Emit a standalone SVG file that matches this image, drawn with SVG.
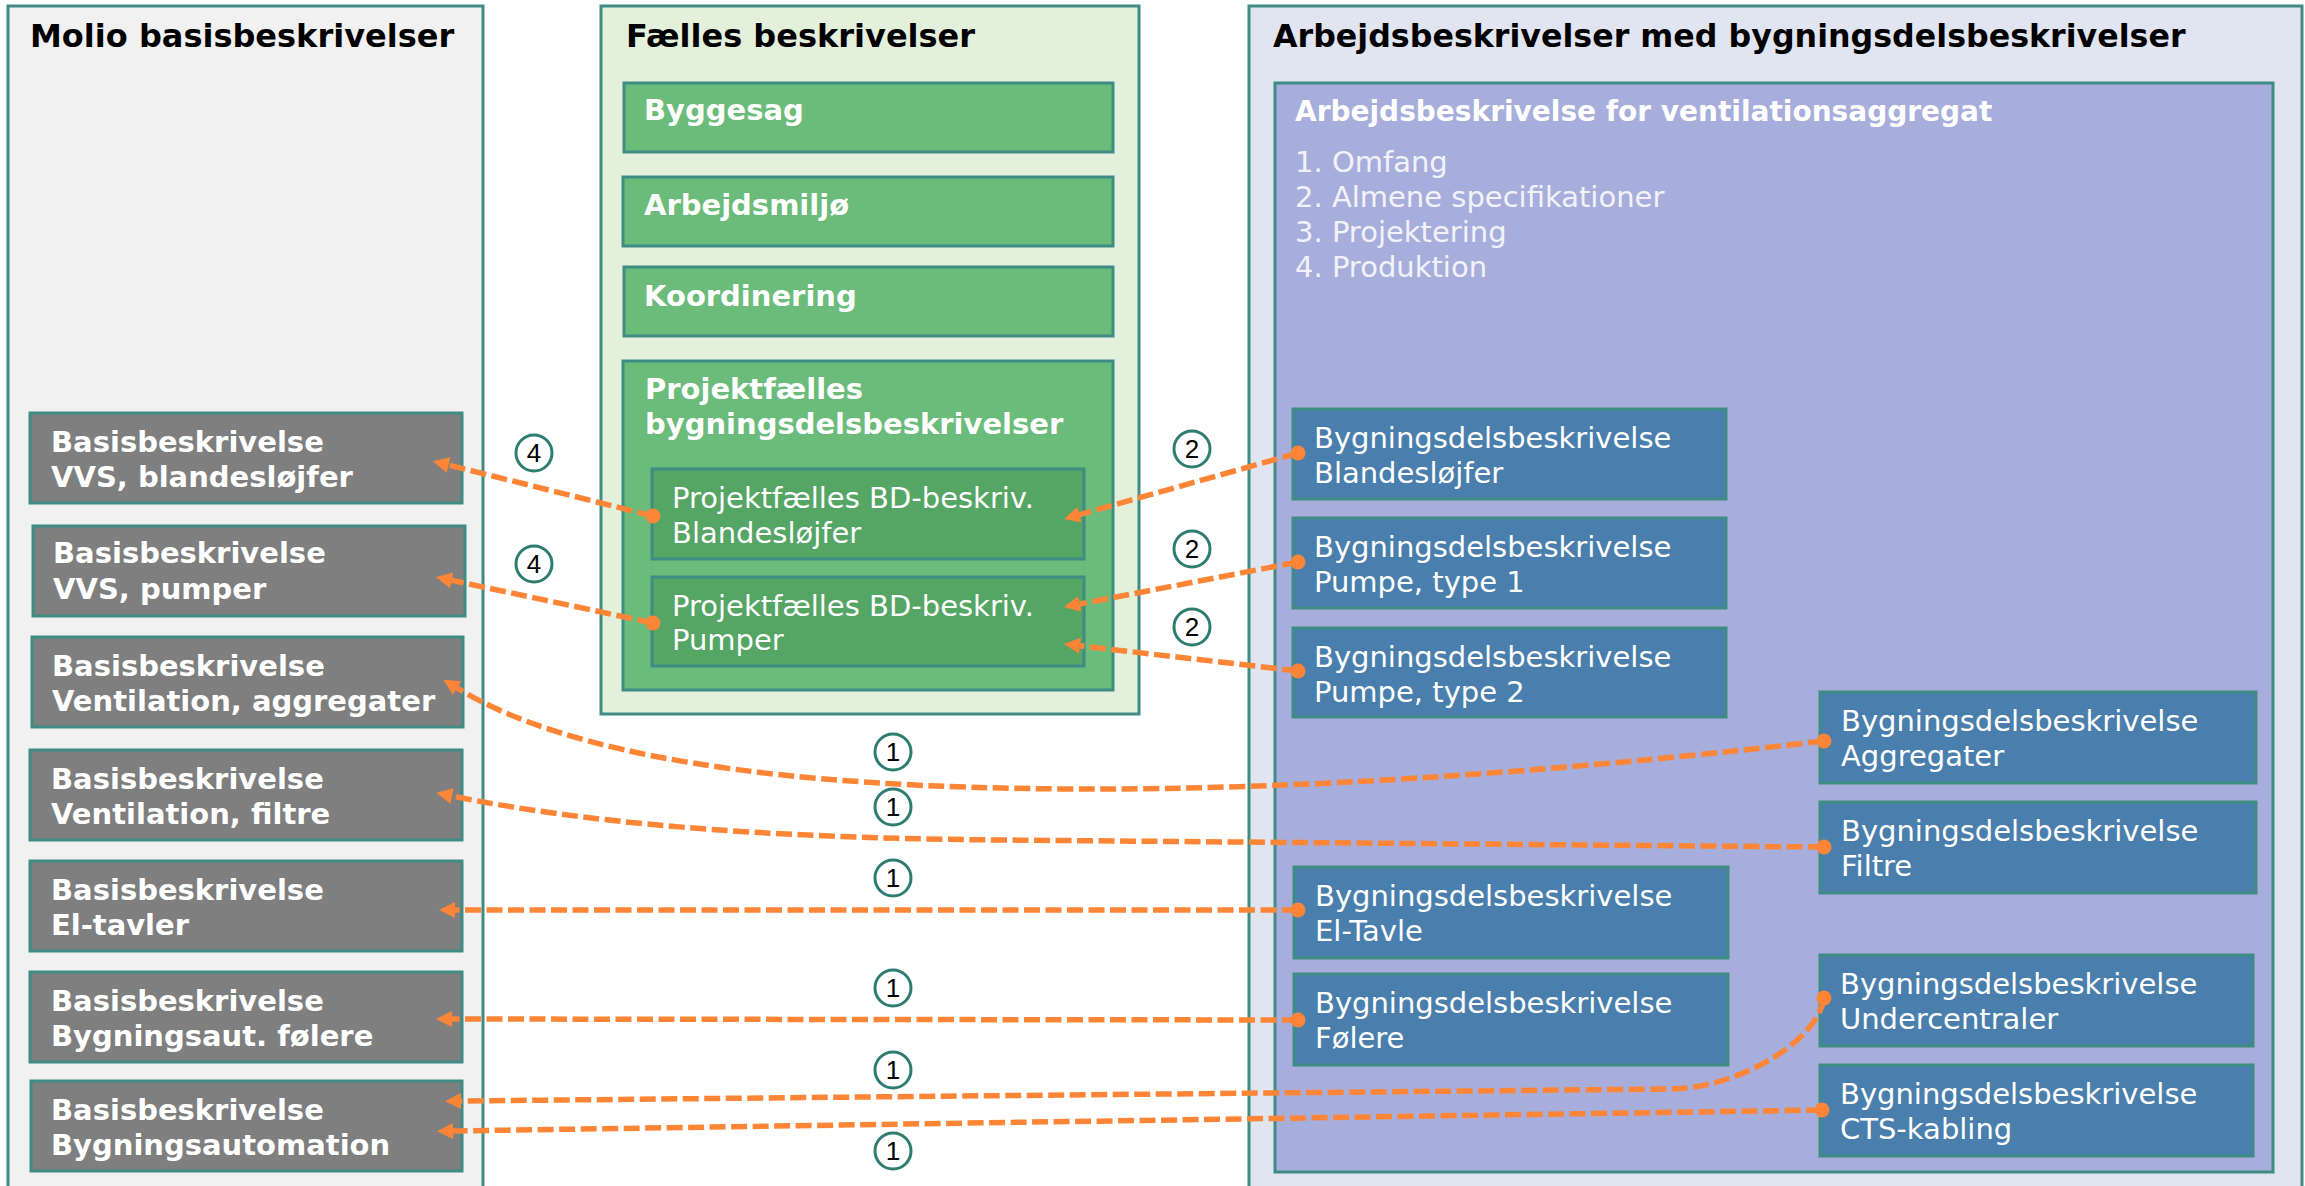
<svg xmlns="http://www.w3.org/2000/svg" width="2305" height="1186" viewBox="0 0 2305 1186">
<style>
text{font-family:"DejaVu Sans","Liberation Sans",sans-serif}
.ttl{font-size:32px;font-weight:bold;fill:#000}
.b{font-size:29px;font-weight:bold;fill:#fff}
.r{font-size:29px;fill:#fff}
.li{font-size:29px;fill:#f2f3fa}
.st{stroke:#3f8c84;stroke-width:3}
.gray{fill:#7f7f7f}
.green{fill:#6bbb7a}
.dgreen{fill:#55a565}
.blue{fill:#4a7fad}
.conn{fill:none;stroke:#fd8535;stroke-width:5.5;stroke-dasharray:16 5.5;marker-start:url(#dot);marker-end:url(#arr)}
.num circle{fill:#fff;stroke:#2e7d70;stroke-width:3}
.num text{font-family:"Liberation Sans",sans-serif;font-size:26px;fill:#000;text-anchor:middle}
</style>
<defs>
<marker id="arr" markerUnits="userSpaceOnUse" markerWidth="16" markerHeight="16" refX="0" refY="8" orient="auto" viewBox="0 0 16 16" overflow="visible"><path d="M0,0 L16,8 L0,16 z" fill="#fd8535"/></marker>
<marker id="dot" markerUnits="userSpaceOnUse" markerWidth="16" markerHeight="16" refX="8" refY="8" viewBox="0 0 16 16" overflow="visible"><circle cx="8" cy="8" r="7.5" fill="#fd8535"/></marker>
</defs>
<rect width="2305" height="1186" fill="#fff"/>

<g id="panel-molio">
<rect class="st" x="8" y="6" width="475" height="1190" fill="#f1f1f1"/>
<text class="ttl" x="30" y="47">Molio basisbeskrivelser</text>
</g>
<g id="panel-faelles">
<rect class="st" x="601" y="6" width="538" height="708" fill="#e3f0dc"/>
<text class="ttl" x="626" y="47">Fælles beskrivelser</text>
</g>
<g id="panel-arbejds">
<rect class="st" x="1249" y="6" width="1053" height="1190" fill="#e1e5f1"/>
<text class="ttl" x="1273" y="47" style="font-size:31.7px">Arbejdsbeskrivelser med bygningsdelsbeskrivelser</text>
</g>
<g id="ab-ventilation">
<rect class="st" x="1275" y="83" width="998" height="1089" fill="#a8aedb"/>
<text class="b" x="1295" y="121" style="font-size:28px">Arbejdsbeskrivelse for ventilationsaggregat</text>
<text class="li" x="1295" y="172">1. Omfang</text>
<text class="li" x="1295" y="207">2. Almene specifikationer</text>
<text class="li" x="1295" y="242">3. Projektering</text>
<text class="li" x="1295" y="277">4. Produktion</text>
</g>

<g id="bb-vvs-blandeslojfer"><rect class="st gray" x="30" y="413" width="432" height="90"/><text class="b" x="51" y="452">Basisbeskrivelse</text><text class="b" x="51" y="487">VVS, blandesløjfer</text></g>
<g id="bb-vvs-pumper"><rect class="st gray" x="33" y="526" width="432" height="90"/><text class="b" x="53" y="563">Basisbeskrivelse</text><text class="b" x="53" y="599">VVS, pumper</text></g>
<g id="bb-vent-aggregater"><rect class="st gray" x="32" y="637" width="431" height="90"/><text class="b" x="52" y="676">Basisbeskrivelse</text><text class="b" x="52" y="711">Ventilation, aggregater</text></g>
<g id="bb-vent-filtre"><rect class="st gray" x="30" y="750" width="432" height="90"/><text class="b" x="51" y="789">Basisbeskrivelse</text><text class="b" x="51" y="824">Ventilation, filtre</text></g>
<g id="bb-el-tavler"><rect class="st gray" x="30" y="861" width="432" height="90"/><text class="b" x="51" y="900">Basisbeskrivelse</text><text class="b" x="51" y="935">El-tavler</text></g>
<g id="bb-folere"><rect class="st gray" x="30" y="972" width="432" height="90"/><text class="b" x="51" y="1011">Basisbeskrivelse</text><text class="b" x="51" y="1046">Bygningsaut. følere</text></g>
<g id="bb-bygningsautomation"><rect class="st gray" x="31" y="1081" width="431" height="90"/><text class="b" x="51" y="1120">Basisbeskrivelse</text><text class="b" x="51" y="1155">Bygningsautomation</text></g>

<g id="fb-byggesag"><rect class="st green" x="624" y="83" width="489" height="69"/><text class="b" x="644" y="120">Byggesag</text></g>
<g id="fb-arbejdsmiljo"><rect class="st green" x="623" y="177" width="490" height="69"/><text class="b" x="644" y="215">Arbejdsmiljø</text></g>
<g id="fb-koordinering"><rect class="st green" x="624" y="267" width="489" height="69"/><text class="b" x="644" y="306">Koordinering</text></g>
<g id="fb-projektfaelles"><rect class="st green" x="623" y="361" width="490" height="329"/><text class="b" x="645" y="399">Projektfælles</text><text class="b" x="645" y="434">bygningsdelsbeskrivelser</text></g>
<g id="pf-blandeslojfer"><rect class="st dgreen" x="652" y="469" width="432" height="90"/><text class="r" x="672" y="508">Projektfælles BD-beskriv.</text><text class="r" x="672" y="543">Blandesløjfer</text></g>
<g id="pf-pumper"><rect class="st dgreen" x="652" y="577" width="432" height="89"/><text class="r" x="672" y="616">Projektfælles BD-beskriv.</text><text class="r" x="672" y="650">Pumper</text></g>

<g id="bd-blandeslojfer"><rect class="st blue" x="1293" y="409" width="433" height="90"/><text class="r" x="1314" y="448">Bygningsdelsbeskrivelse</text><text class="r" x="1314" y="483">Blandesløjfer</text></g>
<g id="bd-pumpe1"><rect class="st blue" x="1293" y="518" width="433" height="90"/><text class="r" x="1314" y="557">Bygningsdelsbeskrivelse</text><text class="r" x="1314" y="592">Pumpe, type 1</text></g>
<g id="bd-pumpe2"><rect class="st blue" x="1293" y="628" width="433" height="89"/><text class="r" x="1314" y="667">Bygningsdelsbeskrivelse</text><text class="r" x="1314" y="702">Pumpe, type 2</text></g>
<g id="bd-eltavle"><rect class="st blue" x="1294" y="867" width="434" height="91"/><text class="r" x="1315" y="906">Bygningsdelsbeskrivelse</text><text class="r" x="1315" y="941">El-Tavle</text></g>
<g id="bd-folere"><rect class="st blue" x="1294" y="974" width="434" height="91"/><text class="r" x="1315" y="1013">Bygningsdelsbeskrivelse</text><text class="r" x="1315" y="1048">Følere</text></g>
<g id="bd-aggregater"><rect class="st blue" x="1820" y="692" width="436" height="91"/><text class="r" x="1841" y="731">Bygningsdelsbeskrivelse</text><text class="r" x="1841" y="766">Aggregater</text></g>
<g id="bd-filtre"><rect class="st blue" x="1820" y="802" width="436" height="91"/><text class="r" x="1841" y="841">Bygningsdelsbeskrivelse</text><text class="r" x="1841" y="876">Filtre</text></g>
<g id="bd-undercentraler"><rect class="st blue" x="1820" y="955" width="433" height="91"/><text class="r" x="1840" y="994">Bygningsdelsbeskrivelse</text><text class="r" x="1840" y="1029">Undercentraler</text></g>
<g id="bd-cts"><rect class="st blue" x="1820" y="1065" width="433" height="91"/><text class="r" x="1840" y="1104">Bygningsdelsbeskrivelse</text><text class="r" x="1840" y="1139">CTS-kabling</text></g>

<g id="connectors">
<path class="conn" d="M653,516 L448.5,465"/>
<path class="conn" d="M653,623 L451.6,580.3"/>
<path class="conn" d="M1298,453 L1079.4,514.7"/>
<path class="conn" d="M1298,562 L1079.7,604"/>
<path class="conn" d="M1298,671 L1079.9,645.8"/>
<path class="conn" d="M1824,741 Q1400,790 1080,789 Q620,788 457,688"/>
<path class="conn" d="M1824,847 L1000,840 C750,838 580,822 452,796"/>
<path class="conn" d="M1298,910 L455,910"/>
<path class="conn" d="M1298,1020 L452,1019"/>
<path class="conn" d="M1824,998 C1818,1040 1740,1089 1668,1089 L461,1101"/>
<path class="conn" d="M1822,1110 L453,1131"/>
</g>

<g id="labels">
<g class="num"><circle cx="534" cy="453" r="18"/><text x="534" y="462">4</text></g>
<g class="num"><circle cx="534" cy="564" r="18"/><text x="534" y="573">4</text></g>
<g class="num"><circle cx="1192" cy="449" r="18"/><text x="1192" y="458">2</text></g>
<g class="num"><circle cx="1192" cy="549" r="18"/><text x="1192" y="558">2</text></g>
<g class="num"><circle cx="1192" cy="627" r="18"/><text x="1192" y="636">2</text></g>
<g class="num"><circle cx="893" cy="752" r="18"/><text x="893" y="761">1</text></g>
<g class="num"><circle cx="893" cy="807" r="18"/><text x="893" y="816">1</text></g>
<g class="num"><circle cx="893" cy="878" r="18"/><text x="893" y="887">1</text></g>
<g class="num"><circle cx="893" cy="988" r="18"/><text x="893" y="997">1</text></g>
<g class="num"><circle cx="893" cy="1070" r="18"/><text x="893" y="1079">1</text></g>
<g class="num"><circle cx="893" cy="1151" r="18"/><text x="893" y="1160">1</text></g>
</g>
</svg>
